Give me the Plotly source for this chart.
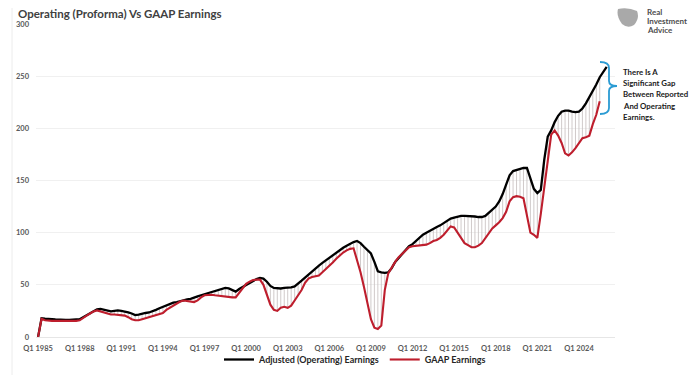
import plotly.graph_objects as go

# ---------------- data ----------------
start_year = 1985
operating = [
    0, 18, 17.5, 17,          # 1985
    17, 16.8, 16.5, 16.5,     # 1986
    16.5, 16.5, 16.5, 16.8,   # 1987
    17, 19, 21, 23,           # 1988
    25, 26.5, 27, 26,         # 1989
    25, 24.5, 25, 25.5,       # 1990
    25, 24.5, 23.5, 22.5,     # 1991
    21, 21.5, 22.5, 23,       # 1992
    23.5, 24.5, 26, 27.5,     # 1993
    29, 30.5, 31.5, 33,       # 1994
    33.5, 34.5, 35.5, 36,     # 1995
    36.5, 38, 39, 40,         # 1996
    41, 42.5, 43.5, 44.5,     # 1997
    45.5, 46.5, 47, 46.5,     # 1998
    45, 43.5, 46, 48,         # 1999
    50, 52, 54, 55.5,         # 2000
    56.5, 56, 53, 49,         # 2001
    47, 46.5, 46.5, 47,       # 2002
    47, 47.5, 48.5, 51,       # 2003
    54, 57, 60, 63,           # 2004
    66, 68.5, 71, 73.5,       # 2005
    76, 78.5, 81, 83.5,       # 2006
    85.5, 87.5, 89.5, 91,     # 2007
    92, 90, 86.5, 83,         # 2008
    80, 72, 63, 62,           # 2009
    61.5, 62, 66, 72,         # 2010
    76, 80, 84, 87,           # 2011
    89, 92, 95, 98,           # 2012
    100, 102, 104, 105.5,     # 2013
    107, 109, 111, 113.5,     # 2014
    114.5, 115.5, 116, 116,   # 2015
    116, 116, 115.5, 115,     # 2016
    115, 116, 119, 122,       # 2017
    125, 130, 137, 146,       # 2018
    155, 159, 160, 161,       # 2019
    162, 162, 152, 142,       # 2020
    138, 141, 170, 192,       # 2021
    198, 206, 212, 216,       # 2022
    217, 217, 216, 215.5,     # 2023
    216, 219, 224, 230,       # 2024
    235, 242, 249, 254,       # 2025
    259,                      # 2026
]
gaap = [
    0, 17.5, 16, 15.5,        # 1985
    15.5, 15.5, 15.5, 15,     # 1986
    15, 15, 15, 15.5,         # 1987
    16, 18.5, 20.5, 22.5,     # 1988
    24.5, 25.5, 24.5, 23,     # 1989
    22, 21.5, 21.5, 21,       # 1990
    21, 20.5, 19, 17,         # 1991
    16, 16, 17, 18,           # 1992
    19, 20, 20.5, 21.5,       # 1993
    23, 26, 28, 30,           # 1994
    32, 34, 35, 34.5,         # 1995
    34, 33.5, 35, 38,         # 1996
    40, 40.5, 40.5, 40,       # 1997
    39.5, 39, 38.5, 38,       # 1998
    38, 38, 42, 46,           # 1999
    51, 53, 54.5, 55,         # 2000
    55, 50, 40, 31,           # 2001
    26, 25, 28, 29,           # 2002
    28, 30, 35, 40,           # 2003
    45, 52, 56, 57.5,         # 2004
    58, 59, 62, 65,           # 2005
    68.5, 71.5, 75, 78.5,     # 2006
    81, 83, 84.5, 85,         # 2007
    74, 62, 48, 33,           # 2008
    17, 9, 7.7, 11,           # 2009
    45, 61, 67, 72,           # 2010
    76.5, 80, 83, 86,         # 2011
    87, 87.5, 88, 88,         # 2012
    88.5, 90, 92, 93,         # 2013
    95, 98, 102, 106,         # 2014
    105, 100, 95, 90,         # 2015
    88, 86, 86, 87.5,         # 2016
    90, 95, 100, 104,         # 2017
    107, 110, 114, 120,       # 2018
    130, 134, 135, 134.5,     # 2019
    133, 115, 100, 98,        # 2020
    95, 118, 142, 167,        # 2021
    194, 198, 193, 186,       # 2022
    176, 174, 177, 181,       # 2023
    186, 190.5, 191.5, 193,   # 2024
    204, 213, 226,            # 2025
]
quarters = [f"Q{i % 4 + 1} {start_year + i // 4}" for i in range(len(operating))]
tick_labels = [q for q in quarters if q.startswith("Q1") and (int(q[3:]) - start_year) % 3 == 0]
y_ticks = [0, 50, 100, 150, 200, 250, 300]

# ---------------- layout helpers ----------------
# the page adds an 8px body margin, so the figure is sized to fit the 700x375 window
OFF = 8
W, H = 700 - OFF, 375 - OFF
L, R, T, B = 36 - OFF, 85, 24 - OFF, 38
PW, PH = W - L - R, H - T - B


def px(xp):  # page pixel x -> paper
    return (xp - OFF - L) / PW


def py(yp):  # page pixel y -> paper
    return (H - B - (yp - OFF)) / PH


BLACK = "#000000"
RED = "#BE1E2D"
TXT = "#595959"
FONT = "Lato"

fig = go.Figure()

# high-low (gap) lines
hx, hy = [], []
for i in range(min(len(operating), len(gaap))):
    hx += [quarters[i], quarters[i], None]
    hy += [gaap[i], operating[i], None]
fig.add_trace(go.Scatter(x=hx, y=hy, mode="lines", line=dict(color="#C4BDBD", width=0.8),
                         showlegend=False, hoverinfo="skip"))

fig.add_trace(go.Scatter(x=quarters, y=operating, mode="lines", name="Adjusted (Operating) Earnings",
                         line=dict(color=BLACK, width=2.3)))
fig.add_trace(go.Scatter(x=quarters[:len(gaap)], y=gaap, mode="lines", name="GAAP Earnings",
                         line=dict(color=RED, width=2.1)))

fig.update_layout(
    width=W, height=H, autosize=False,
    margin=dict(l=L, r=R, t=T, b=B, autoexpand=False),
    paper_bgcolor="white", plot_bgcolor="white",
    font=dict(family=FONT, color=TXT),
    showlegend=True,
    legend=dict(orientation="h", x=px(219), xanchor="left", y=py(374), yanchor="bottom",
                font=dict(size=9, color="#262626", family=FONT, weight="bold"),
                itemwidth=30, bgcolor="rgba(0,0,0,0)", tracegroupgap=0),
    xaxis=dict(type="category", categoryorder="array", categoryarray=quarters, automargin=False,
               range=[-0.6, 166.4], tickmode="array", tickvals=tick_labels, ticktext=tick_labels,
               showgrid=False, showline=True, linecolor="#E6E6E6", linewidth=1, ticks="",
               tickangle=0, ticklabelstandoff=4,
               tickfont=dict(size=7.5, color=TXT, family=FONT, weight="bold"), zeroline=False),
    yaxis=dict(range=[0, 300], tickvals=y_ticks, showgrid=True, gridcolor="#F0F0F0", gridwidth=1,
               automargin=False, zeroline=False, showline=False, ticks="", ticklabelstandoff=6,
               tickfont=dict(size=7.5, color=TXT, family=FONT, weight="bold")),
)

# title
fig.add_annotation(xref="paper", yref="paper", x=px(16), y=py(13), xanchor="left", yanchor="middle",
                   showarrow=False, text="<b>Operating (Proforma) Vs GAAP Earnings</b>",
                   font=dict(size=11.5, color="#404040", family=FONT))

# faint chart-area frame lines
for xp in (12, 693):
    fig.add_shape(type="line", xref="paper", yref="paper", x0=px(xp), x1=px(xp), y0=py(8), y1=py(375),
                  line=dict(color="#ECECEC", width=1))

# blue curly bracket
p = lambda a, b: f"{px(a)},{py(b)}"
path = (f"M {p(600, 62)} Q {p(609, 62)} {p(609, 68)} L {p(609, 81)} Q {p(609, 86)} {p(617, 86)} "
        f"Q {p(609, 86)} {p(609, 91)} L {p(609, 108)} Q {p(609, 114)} {p(600, 114)}")
fig.add_shape(type="path", path=path, xref="paper", yref="paper",
              line=dict(color="#2B9BD3", width=1.8))

for k, line in enumerate(["There Is A", "Significant Gap", "Between Reported", "And Operating", "Earnings."]):
    fig.add_annotation(xref="paper", yref="paper", x=px(621), y=py(72 + 11.2 * k), xanchor="left",
                       yanchor="middle", align="left", showarrow=False, text=f"<b>{line}</b>",
                       font=dict(size=7.8, color="#1a1a1a", family=FONT))

# logo (icon approximation + text)
icon = (f"M {p(618, 9)} Q {p(628, 7)} {p(637, 11)} Q {p(640, 18)} {p(634, 25)} "
        f"Q {p(628, 29)} {p(622, 24)} Q {p(616, 16)} {p(618, 9)} Z")
fig.add_shape(type="path", path=icon, xref="paper", yref="paper",
              fillcolor="#8c8c8c", opacity=0.75, line=dict(width=0))
for k, line in enumerate(["Real", "Investment", "Advice"]):
    fig.add_annotation(xref="paper", yref="paper", x=px(645), y=py(12 + 9 * k), xanchor="left",
                       yanchor="middle", align="left", showarrow=False, text=f"<b>{line}</b>",
                       font=dict(size=8, color="#4d4d4d", family=FONT))

fig.write_html("out.html")
